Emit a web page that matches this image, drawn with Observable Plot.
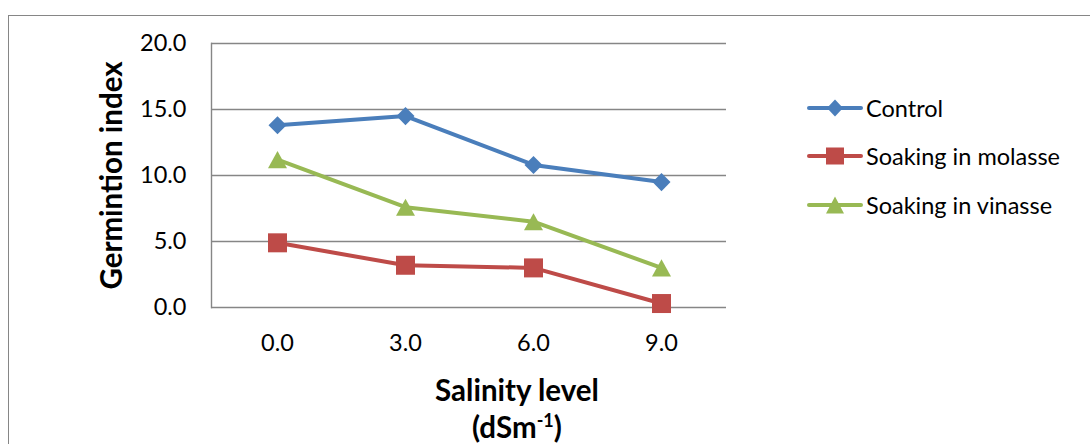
<!DOCTYPE html>
<html><head><meta charset="utf-8">
<script src="https://cdn.jsdelivr.net/npm/d3@7"></script>
<script src="https://cdn.jsdelivr.net/npm/@observablehq/plot@0.6"></script>
<style>
body{margin:0;background:#fff;}
#wrap{position:relative;width:1090px;height:444px;overflow:hidden;font-family:Lato,sans-serif;color:#000;}
#frame{position:absolute;left:8px;top:15px;width:1100px;height:460px;border-left:1.5px solid #868686;border-top:1.5px solid #868686;pointer-events:none;}
#chart{position:absolute;left:0;top:0;}
.legend{position:absolute;left:807px;top:0;}
.lrow{position:absolute;left:0;height:28px;display:flex;align-items:center;white-space:nowrap;font-size:23.5px;}
.lrow svg{margin-right:3px;}
.xt{position:absolute;width:400px;text-align:center;font-weight:bold;font-size:29.5px;line-height:36px;white-space:nowrap;}
.xt sup{font-size:18px;vertical-align:11px;line-height:0;}
</style>
</head><body>
<div id="wrap">
  <div id="frame"></div>
  <div id="chart"></div>
  <div class="legend" id="legend"></div>
  <div class="xt" id="xt1" style="left:317px;top:372px;">Salinity level</div>
  <div class="xt" id="xt2" style="left:317px;top:409px;">(dSm<sup>-1</sup>)</div>
</div>
<script>
const levels = ["0.0", "3.0", "6.0", "9.0"];
const seriesNames = ["Control", "Soaking in molasse", "Soaking in vinasse"];
const control = [13.8, 14.5, 10.8, 9.5];
const molasse = [4.9, 3.2, 3.0, 0.3];
const vinasse = [11.2, 7.6, 6.5, 3.0];
const yTicks = [0, 5, 10, 15, 20];
const colors = ["#4A7EBB", "#BE4B48", "#98B954"];

const seriesValues = [control, molasse, vinasse];
const rows = [];
seriesNames.forEach((s, i) => levels.forEach((l, j) => rows.push({series: s, level: l, value: seriesValues[i][j]})));

const diamondSym = {draw(ctx, size) { const r = Math.sqrt(size / Math.PI) * 0.95; ctx.moveTo(0, -r); ctx.lineTo(r, 0); ctx.lineTo(0, r); ctx.lineTo(-r, 0); ctx.closePath(); }};
const squareSym = {draw(ctx, size) { const r = Math.sqrt(size / Math.PI); ctx.rect(-r, -r, 2 * r, 2 * r); }};
const triSym = {draw(ctx, size) { const r = Math.sqrt(size / Math.PI); const h = 0.9 * r; ctx.moveTo(0, -h); ctx.lineTo(r, h); ctx.lineTo(-r, h); ctx.closePath(); }};
const symbols = [diamondSym, squareSym, triSym];

const marks = [
  Plot.gridY(yTicks, {stroke: "#868686", strokeOpacity: 1, strokeWidth: 1.4}),
  Plot.frame({anchor: "left", stroke: "#868686", strokeWidth: 1.4}),
  Plot.axisY(yTicks, {tickSize: 0, tickPadding: 25, tickFormat: d => d.toFixed(1), fontSize: 23.5, label: null}),
  Plot.axisY([], {tickSize: 0, label: "Germintion index", labelAnchor: "center", labelOffset: 110, labelArrow: "none", fontSize: 29.5, fontWeight: "bold"}),
  Plot.axisX({tickSize: 0, tickPadding: 27, fontSize: 23.5, label: null})
];
seriesNames.forEach((s, i) => {
  const d = rows.filter(r => r.series === s);
  marks.push(Plot.lineY(d, {x: "level", y: "value", stroke: "series", strokeWidth: 4, strokeLinejoin: "round", strokeLinecap: "round"}));
  marks.push(Plot.dot(d, {x: "level", y: "value", fill: "series", symbol: symbols[i], r: 9.5, stroke: "none"}));
});

const chart = Plot.plot({
  width: 1090,
  height: 444,
  marginLeft: 211,
  marginRight: 364,
  marginTop: 43,
  marginBottom: 137,
  style: {fontFamily: "Lato, sans-serif", fontSize: "23.5px", color: "#000", background: "transparent", overflow: "visible"},
  x: {type: "point", domain: levels, padding: 0.5, align: 0.5},
  y: {domain: [0, 20]},
  color: {domain: seriesNames, range: colors},
  marks
});
document.getElementById("chart").appendChild(chart);

// legend
const legend = document.getElementById("legend");
const rowTops = [108, 156, 205];
const legendShapes = [
  '<path d="M28,3.5L36,12L28,20.5L20,12Z"/>',
  '<rect x="19" y="3.5" width="18" height="17"/>',
  '<path d="M28,3.5L37,20.5L19,20.5Z"/>'
];
seriesNames.forEach((s, i) => {
  const div = document.createElement("div");
  div.className = "lrow";
  div.style.top = (rowTops[i] - 14) + "px";
  div.innerHTML = `<svg width="56" height="24" viewBox="0 0 56 24"><line x1="2" y1="12" x2="54" y2="12" stroke="${colors[i]}" stroke-width="4" stroke-linecap="round"/><g fill="${colors[i]}">${legendShapes[i]}</g></svg><span>${s}</span>`;
  legend.appendChild(div);
});
</script>
</body></html>
